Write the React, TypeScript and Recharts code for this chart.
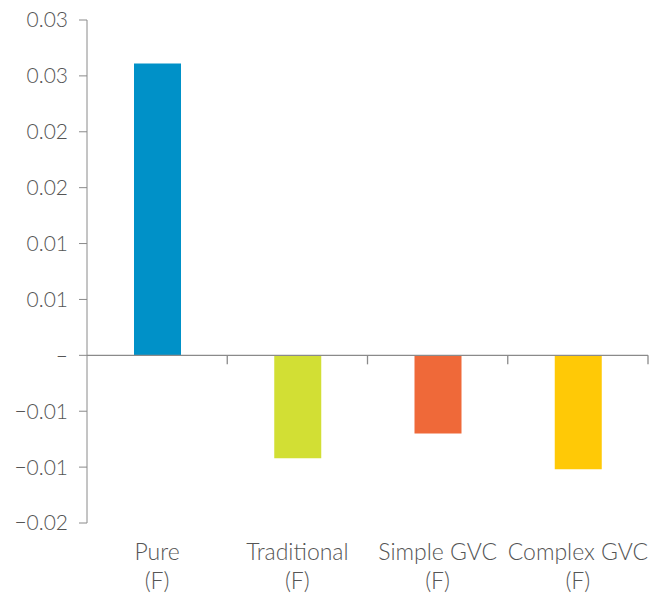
import { Bar, BarChart, Cell, ReferenceLine, XAxis, YAxis } from "recharts";

const categories = ["Pure", "Traditional", "Simple GVC", "Complex GVC"];
const categoryNotes = ["(F)", "(F)", "(F)", "(F)"];
const values = [0.0261, -0.0092, -0.007, -0.0102];
const barColors = ["#0091c8", "#d2df34", "#ef6939", "#ffc906"];

const yTicks = [0.03, 0.025, 0.02, 0.015, 0.01, 0.005, 0, -0.005, -0.01, -0.015];
const yTickLabels = ["0.03", "0.03", "0.02", "0.02", "0.01", "0.01", "–", "−0.01", "−0.01", "−0.02"];

const data = categories.map((name, i) => ({
  name,
  note: categoryNotes[i],
  value: values[i],
}));

const axisColor = "#8a8a8a";
const textColor = "#555555";
const font = "Lato, 'Open Sans', sans-serif";

function CategoryTick(props: any) {
  const { x, y, payload, index } = props;
  return (
    <g>
      <text
        x={x}
        y={y}
        dy={37}
        textAnchor="middle"
        fill={textColor}
        fontSize={23}
        fontFamily={font}
        fontWeight={300}
      >
        {payload.value}
      </text>
      <text
        x={x}
        y={y}
        dy={66}
        textAnchor="middle"
        fill={textColor}
        fontSize={23}
        fontFamily={font}
        fontWeight={300}
      >
        {categoryNotes[index]}
      </text>
    </g>
  );
}

function ZeroAxis(props: any) {
  const { x1, y1, x2 } = props;
  const step = (x2 - x1) / categories.length;
  return (
    <g>
      <line x1={x1} y1={y1} x2={x2} y2={y1} stroke={axisColor} strokeWidth={1.3} />
      {categories.map((c, i) => (
        <line
          key={c}
          x1={x1 + step * (i + 1)}
          y1={y1}
          x2={x1 + step * (i + 1)}
          y2={y1 + 9}
          stroke={axisColor}
          strokeWidth={1.3}
        />
      ))}
    </g>
  );
}

export default function App() {
  return (
    <div style={{ width: 667, height: 594 }}>
      <style>{"body{margin:0}"}</style>
      <BarChart
        width={667}
        height={594}
        data={data}
        margin={{ top: 20, right: 19, bottom: 0, left: 0 }}
      >
        <XAxis
          dataKey="name"
          axisLine={false}
          tickLine={false}
          tickSize={0}
          tickMargin={0}
          height={71}
          interval={0}
          tick={<CategoryTick />}
        />
        <YAxis
          width={87}
          domain={[-0.015, 0.03]}
          ticks={yTicks}
          interval={0}
          stroke={axisColor}
          tickSize={8}
          tickMargin={11}
          tickFormatter={(v: number) => yTickLabels[yTicks.indexOf(v)] ?? ""}
          tick={{ fill: textColor, fontSize: 21, fontFamily: font, fontWeight: 300 }}
        />
        <Bar dataKey="value" barSize={47} isAnimationActive={false}>
          {data.map((d, i) => (
            <Cell key={d.name} fill={barColors[i]} />
          ))}
        </Bar>
        <ReferenceLine y={0} shape={<ZeroAxis />} />
      </BarChart>
    </div>
  );
}
